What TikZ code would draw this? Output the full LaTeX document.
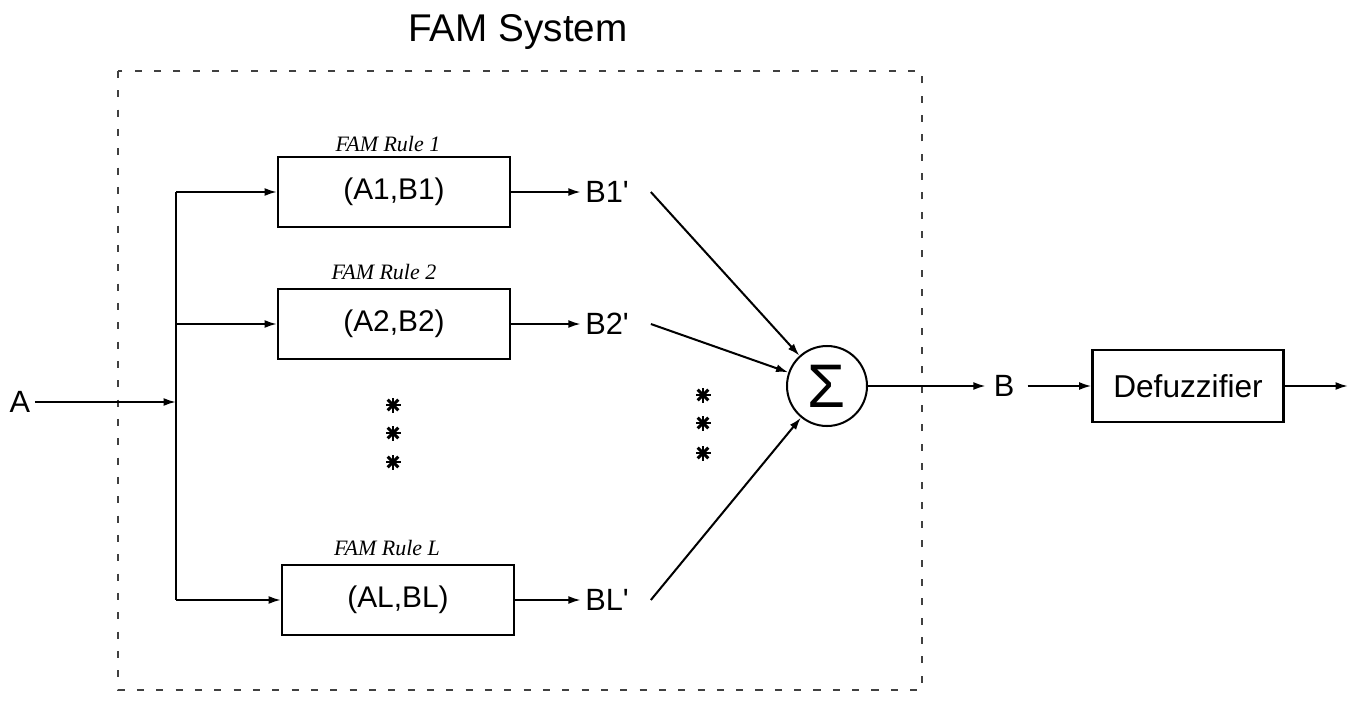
\documentclass[tikz,border=0pt]{standalone}
\usepackage{fontspec}
\setmainfont{Liberation Sans}
\newfontfamily\rulefont{Liberation Serif}
\usetikzlibrary{arrows.meta}

\begin{document}
\begin{tikzpicture}[x=0.2mm,y=-0.2mm,
    line width=1.15pt,
    >={Latex[length=7pt,width=4.5pt]},
    rulebox/.style={draw,line width=1.2pt,minimum width=46.4mm,minimum height=14mm,
      font=\fontsize{17}{19}\selectfont},
    rulename/.style={font=\rulefont\itshape\fontsize{12.5}{14}\selectfont},
    sig/.style={inner sep=2pt,font=\fontsize{17.5}{20}\selectfont},
    frame/.style={dash pattern=on 4pt off 7pt,line width=0.6pt,black!75}]
  \useasboundingbox (0,0) rectangle (1362,705);
  \node[font=\fontsize{22}{26}\selectfont] (title) at (518,32) {FAM System};
  \draw[frame] (118,71) rectangle (922,690);
  % input and rule bank
  \node[sig] (A) at (20,402) {A};
  \coordinate (split) at (176,402);
  \node[rulebox] (r1) at (394,192) {(A1,B1)};
  \node[rulebox] (r2) at (394,324) {(A2,B2)};
  \node[rulebox] (rL) at (398,600) {(AL,BL)};
  \node[rulename] (n1) at (388,144) {FAM Rule 1};
  \node[rulename] (n2) at (384,272) {FAM Rule 2};
  \node[rulename] (nL) at (387,548) {FAM Rule L};
  \node[sig] (b1) at (607,192) {B1\textquotesingle};
  \node[sig] (b2) at (607,324) {B2\textquotesingle};
  \node[sig] (bL) at (607,600) {BL\textquotesingle};
  \draw[->] (A) -- (split);
  \draw (split |- r1.west) -- (split |- rL.west);
  \foreach \r in {r1,r2,rL}
    \draw[->] (split |- \r.west) -- (\r.west);
  \draw[->] (r1.east) -- (b1.west);
  \draw[->] (r2.east) -- (b2.west);
  \draw[->] (rL.east) -- (bL.west);
  % ellipsis stars
  \foreach \x/\y in {393/405, 393/433, 393/462, 703/395, 703/423, 703/453}
    \foreach \a in {0,45,90,135}
      \draw[line width=1.7pt] (\x,\y) ++(\a:7.5) -- ++(\a+180:15);
  % summation and defuzzifier
  \node[circle,draw,minimum size=16mm,inner sep=0pt] (sum) at (827,386)
    {\fontsize{35}{35}\selectfont Σ};
  \draw[->] ([xshift=10pt]b1.east) -- (sum);
  \draw[->] ([xshift=10pt]b2.east) -- (sum);
  \draw[->] ([xshift=10pt]bL.east) -- (sum);
  \node[sig,inner sep=4pt] (B) at (1004,386) {B};
  \node[draw,line width=1.2pt,minimum width=38.2mm,minimum height=14.4mm,
    font=\fontsize{18}{20}\selectfont] (dfz) at (1188,386) {Defuzzifier};
  \coordinate (out) at (1348,386);
  \draw[->] (sum) -- (B);
  \draw[->,shorten <=3pt] (B) -- (dfz);
  \draw[->] (dfz) -- (out);
\end{tikzpicture}
\end{document}
